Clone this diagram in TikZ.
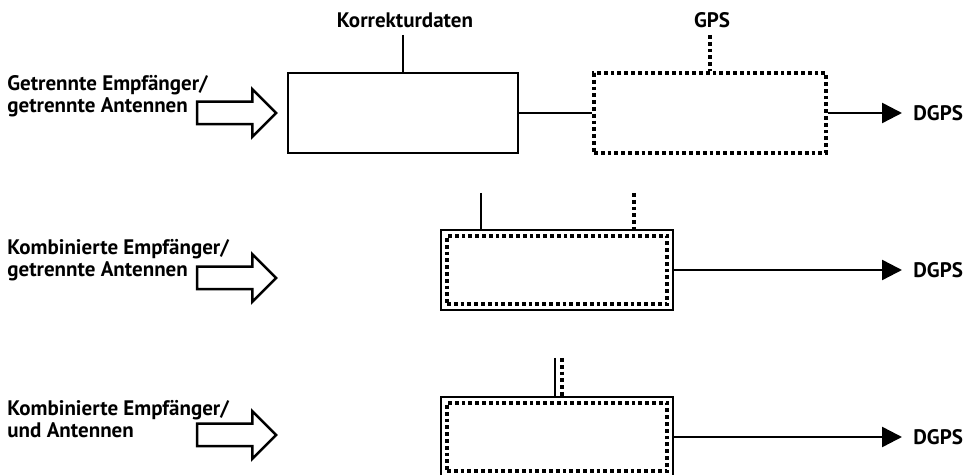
\documentclass[tikz,border=0pt]{standalone}
\usepackage{fontspec}
\setmainfont{PT Sans}
\usetikzlibrary{arrows.meta,shapes.arrows}

\begin{document}
\begin{tikzpicture}[x=0.5pt,y=-0.5pt,
          font=\fontsize{10.5}{11}\selectfont\bfseries,
          solidbox/.style={rectangle, draw, line width=1.25pt, minimum width=115pt, minimum height=40pt},
          dotbox/.style={rectangle, draw, line width=1.7pt, dash pattern=on 1.9pt off 1.5pt,
            minimum width=116pt, minimum height=40pt},
          outerbox/.style={rectangle, draw, line width=1.25pt, minimum width=116pt, minimum height=40pt},
          innerbox/.style={rectangle, draw, line width=1.7pt, dash pattern=on 1.9pt off 1.5pt,
            minimum width=110pt, minimum height=34pt},
          dotline/.style={line width=1.7pt, dash pattern=on 1.9pt off 1.5pt},
          wire/.style={line width=1.25pt},
          hollow/.style={single arrow, draw, line width=1.25pt, inner xsep=0pt, inner ysep=5pt,
            minimum height=39.5pt, single arrow head extend=6.25pt},
          infolabel/.style={anchor=west, align=left, inner sep=0pt},
          outlabel/.style={anchor=west, inner sep=0pt}]
        \useasboundingbox (0,0) rectangle (976,475);

        % getrennte Empfaenger
        \node[infolabel] (lab1) at (7,96) {Getrennte Empfänger/\\getrennte Antennen};
        \node[hollow]    (in1)  at (231,113) {};
        \node[solidbox]  (box1) at (403,113) {};
        \node[dotbox]    (box2) at (710,113) {};
        \node[outlabel]  (dgps1) at (913,113) {DGPS};
        \node (kd)  at (405,20) {Korrekturdaten};
        \node (gps) at (712,20) {GPS};
        \coordinate (kd1)  at (403,35);
        \coordinate (gps1) at (710,35);

        \draw[wire] (kd1) -- (box1.north);
        \draw[dotline] (gps1) -- (box2.north);
        \draw[wire] (box1.east) -- (box2.west);
        \draw[wire, -{Triangle[length=10pt,width=10pt]}, shorten >=5.5pt] (box2.east) -- (dgps1.west);

        % kombinierte Empfaenger, getrennte Antennen
        \node[infolabel] (lab2) at (7,260) {Kombinierte Empfänger/\\getrennte Antennen};
        \node[hollow]    (in2)  at (231,278) {};
        \node[outerbox]  (kom1)   at (557,270) {};
        \node[innerbox]  (kom1in) at (557,270) {};
        \node[outlabel]  (dgps2) at (913,270) {DGPS};
        \coordinate (kd2)  at (481,193);
        \coordinate (gps2) at (634,193);

        \draw[wire] (kd2) -- (kd2 |- kom1.north);
        \draw[dotline] (gps2) -- (gps2 |- kom1.north);
        \draw[wire, -{Triangle[length=10pt,width=10pt]}, shorten >=5.5pt] (kom1.east) -- (dgps2.west);

        % kombinierte Empfaenger und Antennen
        \node[infolabel] (lab3) at (7,419) {Kombinierte Empfänger/\\und Antennen};
        \node[hollow]    (in3)  at (231,435) {};
        \node[outerbox]  (kom2)   at (557,437) {};
        \node[innerbox]  (kom2in) at (557,437) {};
        \node[outlabel]  (dgps3) at (913,437) {DGPS};
        \coordinate (kd3)  at (555,358);
        \coordinate (gps3) at (562,358);

        \draw[wire] (kd3) -- (kd3 |- kom2.north);
        \draw[dotline] (gps3) -- (gps3 |- kom2.north);
        \draw[wire, -{Triangle[length=10pt,width=10pt]}, shorten >=5.5pt] (kom2.east) -- (dgps3.west);

      \end{tikzpicture}
\end{document}
